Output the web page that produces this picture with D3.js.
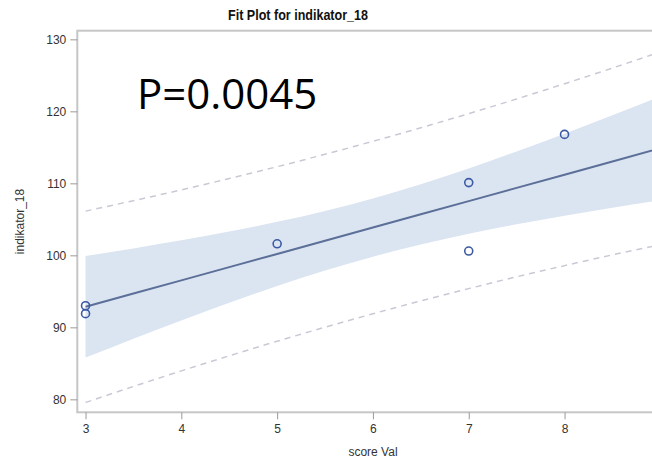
<!DOCTYPE html>
<html>
<head>
<meta charset="utf-8">
<script src="https://cdn.jsdelivr.net/npm/d3@7"></script>
<style>
  body { margin: 0; background: #fff; }
  text { font-family: "Liberation Sans", Arial, sans-serif; }
</style>
</head>
<body>
<svg width="652" height="470"></svg>
<script>
// observed points
const scoreVal = [3, 3, 5, 7, 7, 8];
const indikator = [93.0, 91.9, 101.6, 110.1, 100.6, 116.8];

// fit line and bands
const gridX  = [3, 3.5, 4, 4.5, 5, 5.5, 6, 6.5, 7, 7.5, 8, 8.5, 9, 9.1];
const fitY   = [92.85, 94.69, 96.52, 98.36, 100.19, 102.03, 103.86, 105.70, 107.53, 109.37, 111.20, 113.04, 114.87, 115.24];
const clmLow = [85.80, 88.42, 90.96, 93.42, 95.73, 97.89, 99.81, 101.51, 102.99, 104.31, 105.50, 106.62, 107.66, 107.87];
const clmUp  = [99.90, 100.96, 102.08, 103.30, 104.65, 106.17, 107.91, 109.89, 112.07, 114.43, 116.90, 119.46, 122.08, 122.61];
const pLow   = [79.56, 81.79, 83.95, 86.05, 88.07, 90.02, 91.88, 93.68, 95.38, 97.02, 98.57, 100.07, 101.49, 101.78];
const pUp    = [106.14, 107.59, 109.09, 110.67, 112.31, 114.04, 115.84, 117.72, 119.68, 121.72, 123.83, 126.01, 128.25, 128.70];

const xTicks = [3, 4, 5, 6, 7, 8];
const yTicks = [80, 90, 100, 110, 120, 130];

const svg = d3.select("svg");
const pl = 77.3, pr = 668, pt = 30.7, pb = 412.3;

const x = d3.scaleLinear().domain([2.914, 9.08]).range([pl, pr]);
const y = d3.scaleLinear().domain([78.2, 131.2]).range([pb, pt]);

svg.append("clipPath").attr("id", "plotclip")
  .append("rect")
  .attr("x", pl).attr("y", pt)
  .attr("width", pr - pl).attr("height", pb - pt);

const plot = svg.append("g").attr("clip-path", "url(#plotclip)");

const rows = gridX.map((d, i) => ({x: d, fit: fitY[i], lo: clmLow[i], hi: clmUp[i], plo: pLow[i], phi: pUp[i]}));

// confidence band
plot.append("path")
  .datum(rows)
  .attr("fill", "#dbe4f1")
  .attr("d", d3.area().curve(d3.curveMonotoneX)
    .x(d => x(d.x)).y0(d => y(d.lo)).y1(d => y(d.hi)));

// prediction limits
["plo", "phi"].forEach(k => {
  plot.append("path")
    .datum(rows)
    .attr("fill", "none")
    .attr("stroke", "#c9c9d6")
    .attr("stroke-width", 1.5)
    .attr("stroke-dasharray", "6,5")
    .attr("d", d3.line().curve(d3.curveMonotoneX).x(d => x(d.x)).y(d => y(d[k])));
});

// fit
plot.append("path")
  .datum(rows)
  .attr("fill", "none")
  .attr("stroke", "#5b6f98")
  .attr("stroke-width", 2)
  .attr("d", d3.line().x(d => x(d.x)).y(d => y(d.fit)));

// points
plot.selectAll("circle")
  .data(scoreVal.map((d, i) => [d, indikator[i]]))
  .enter().append("circle")
  .attr("cx", d => x(d[0]))
  .attr("cy", d => y(d[1]))
  .attr("r", 4)
  .attr("fill", "none")
  .attr("stroke", "#3b5aa3")
  .attr("stroke-width", 1.6);

// frame
svg.append("rect")
  .attr("x", pl).attr("y", pt)
  .attr("width", pr - pl).attr("height", pb - pt)
  .attr("fill", "none")
  .attr("stroke", "#c6c6c6")
  .attr("stroke-width", 2);

// axes
const yAxis = svg.append("g")
  .attr("transform", `translate(${pl},0)`)
  .call(d3.axisLeft(y).tickValues(yTicks).tickSize(7).tickPadding(4).tickSizeOuter(0));
const xAxis = svg.append("g")
  .attr("transform", `translate(0,${pb})`)
  .call(d3.axisBottom(x).tickValues(xTicks).tickFormat(d3.format("d"))
    .tickSize(7).tickPadding(5).tickSizeOuter(0));

[yAxis, xAxis].forEach(g => {
  g.select(".domain").remove();
  g.selectAll(".tick line").attr("stroke", "#9a9a9a");
  g.selectAll(".tick text").attr("fill", "#333").style("font-size", "12px");
});

// texts
svg.append("text")
  .attr("x", 228).attr("y", 20)
  .attr("textLength", 140).attr("lengthAdjust", "spacingAndGlyphs")
  .style("font-size", "14px").style("font-weight", "bold")
  .attr("fill", "#111")
  .text("Fit Plot for indikator_18");

svg.append("text")
  .attr("x", 373).attr("y", 456)
  .attr("text-anchor", "middle")
  .style("font-size", "12px").attr("fill", "#333")
  .text("score Val");

svg.append("text")
  .attr("transform", `translate(24,${(pt + pb) / 2}) rotate(-90)`)
  .attr("text-anchor", "middle")
  .style("font-size", "12px").attr("fill", "#333")
  .text("indikator_18");

svg.append("text")
  .attr("x", 137).attr("y", 108.5)
  .style("font-family", "'Open Sans', sans-serif")
  .style("font-size", "42px")
  .attr("fill", "#000")
  .text("P=0.0045");
</script>
</body>
</html>
